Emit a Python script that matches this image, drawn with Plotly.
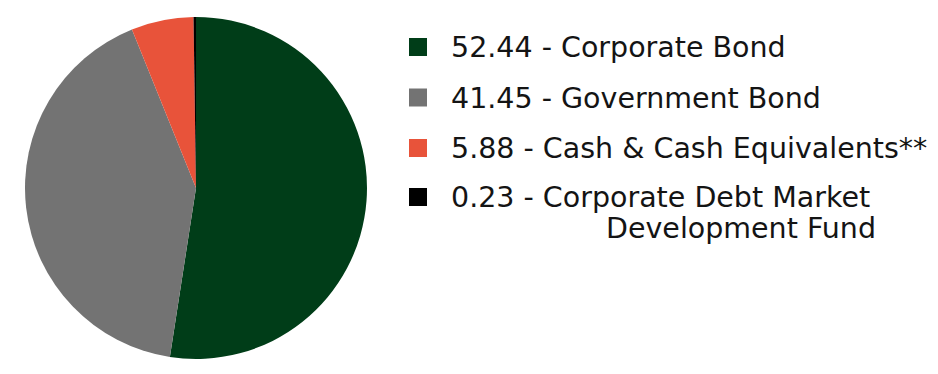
import plotly.graph_objects as go

labels = ["Corporate Bond", "Government Bond", "Cash & Cash Equivalents**",
          "Corporate Debt Market Development Fund"]
values = [52.44, 41.45, 5.88, 0.23]
colors = ["#003d18", "#737373", "#e8533a", "#000000"]
# legend text lines (second list holds continuation lines)
legend_first = ["52.44 - Corporate Bond", "41.45 - Government Bond",
                "5.88 - Cash & Cash Equivalents**", "0.23 - Corporate Debt Market"]
legend_second = ["", "", "", "Development Fund"]

OFF = 8  # page body margin
W, H = 938 - OFF, 374 - OFF


def px(x):
    return (x - OFF) / W


def py(y):
    return 1 - (y - OFF) / H


fig = go.Figure()
fig.add_trace(go.Pie(
    labels=labels, values=values, sort=False, direction="clockwise", rotation=0,
    marker=dict(colors=colors, line=dict(width=0)),
    textinfo="none", hoverinfo="label+value", showlegend=False,
    domain=dict(x=[px(25), px(367)], y=[py(359), py(17)]),
))

FS = 28.5
font = dict(family="DejaVu Sans", size=FS, color="#141414")
row_y = [47, 97.5, 148, 197]
shapes = []
annotations = []
for i, (t1, t2) in enumerate(zip(legend_first, legend_second)):
    y = row_y[i]
    shapes.append(dict(type="rect", xref="paper", yref="paper",
                       x0=px(409), x1=px(427), y0=py(y + 9), y1=py(y - 9),
                       fillcolor=colors[i], line=dict(width=0)))
    annotations.append(dict(text=t1, xref="paper", yref="paper", x=px(450),
                            y=py(y + 0.6), xanchor="left", yanchor="middle",
                            showarrow=False, font=font, borderpad=0))
    if t2:
        annotations.append(dict(text=t2, xref="paper", yref="paper", x=px(605),
                                y=py(y + 0.6 + 30.5), xanchor="left", yanchor="middle",
                                showarrow=False, font=font, borderpad=0))

fig.update_layout(width=W, height=H, margin=dict(l=0, r=0, t=0, b=0),
                  paper_bgcolor="white", plot_bgcolor="white",
                  shapes=shapes, annotations=annotations)
fig.write_html("out.html")
